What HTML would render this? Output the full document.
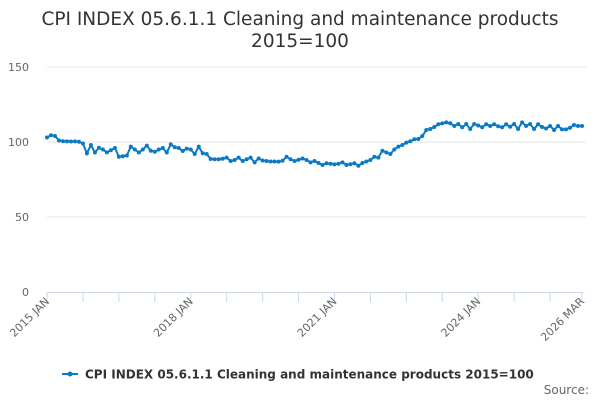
<!DOCTYPE html>
<html><head><meta charset="utf-8"><style>
body{margin:0;background:#fff;}
svg{display:block;font-family:"DejaVu Sans","Liberation Sans",sans-serif;}
</style></head><body>
<svg id="chart" width="600" height="400" viewBox="0 0 600 400">
<text x="300" y="25" text-anchor="middle" font-size="18.5" fill="#333">CPI INDEX 05.6.1.1 Cleaning and maintenance products</text>
<text x="300" y="47" text-anchor="middle" font-size="18.5" fill="#333">2015=100</text>
<g id="grid"></g>
<g id="yaxis"></g>
<g id="xaxis"></g>
<g id="series"></g>
<g>
<line x1="62" y1="374" x2="78" y2="374" stroke="#0a7ac4" stroke-width="2"/>
<circle cx="70" cy="374" r="2.5" fill="#0a7ac4"/>
<text x="85" y="378.5" font-size="12" font-weight="bold" fill="#333">CPI INDEX 05.6.1.1 Cleaning and maintenance products 2015=100</text>
</g>
<text x="589" y="394" text-anchor="end" font-size="12" fill="#666">Source:</text>
</svg>
<script>
const values=[103,104.5,104,101,100.5,100.4,100.3,100.4,100.2,99,92.4,98,93,96.2,95,93.1,94.5,96,90.2,90.5,91,96.9,95,93,95,97.6,94.2,93.5,95,96,93,98.4,96.5,96,94,95.6,95,92,96.9,92.5,92,88.7,88.5,88.5,88.8,89.6,87.3,88,89.6,87.3,88.5,89.6,86.4,89,87.7,87.3,87,87,86.9,87.5,90.2,88.5,87.3,88.2,89,88,86.4,87.3,86,84.7,85.8,85.5,85.1,85.5,86.4,84.7,85.2,85.8,84.2,86,87,88,90.2,89.6,94.2,93,92,95,96.9,98,99.6,100.5,101.8,102,104,108,108.7,110,111.8,112.4,113.1,112.5,110.7,112,109.8,112,108.7,112,111,109.8,111.8,110.7,111.8,110.5,109.8,111.8,110.2,112,108.7,113.1,110.7,112,108.7,111.8,110,109,110.7,108,110.7,108.4,108.4,109.5,111.3,110.7,110.7];
const yTicks=[0,50,100,150];
const xLabelIdx=[0,36,72,108,134];
const xLabels=["2015 JAN","2018 JAN","2021 JAN","2024 JAN","2026 MAR"];
const NS="http://www.w3.org/2000/svg";
const X0=47,X1=582,Y0=292,YS=1.5;
function xs(i){return X0+i*(X1-X0)/(values.length-1);}
function ys(v){return Y0-v*YS;}
function mk(t,a,p){const e=document.createElementNS(NS,t);for(const k in a)e.setAttribute(k,a[k]);p.appendChild(e);return e;}
const grid=document.getElementById('grid'),ya=document.getElementById('yaxis'),xa=document.getElementById('xaxis'),se=document.getElementById('series');
yTicks.forEach(v=>{
 if(v>0){const l=mk('line',{x1:X0,x2:X1+4,y1:ys(v),y2:ys(v),stroke:'#e6e6e6','stroke-width':1},grid);
 
 }
 const t=mk('text',{x:29,y:ys(v)+4,'text-anchor':'end','font-size':11,fill:'#666'},ya);t.textContent=v;
 
 
});
const ax=mk('line',{x1:X0,x2:X1+1,y1:Y0+0.5,y2:Y0+0.5,stroke:'#ccd6eb','stroke-width':1},xa);


const tickIdx=[];for(let i=0;i<values.length;i+=9)tickIdx.push(i);tickIdx.push(values.length-1);
tickIdx.forEach(i=>{const t=mk('line',{x1:xs(i),x2:xs(i),y1:Y0,y2:Y0+10,stroke:'#ccd6eb','stroke-width':1},xa);
 
 });
xLabelIdx.forEach((i,k)=>{const x=xs(i)+3,y=Y0+10;
 const t=mk('text',{x:x,y:y,'text-anchor':'end','font-size':11,fill:'#666',transform:`rotate(-45 ${x} ${y})`},xa);t.textContent=xLabels[k];
 
 });
const d=values.map((v,i)=>(i?'L':'M')+xs(i).toFixed(1)+' '+ys(v).toFixed(1)).join(' ');
const p=mk('path',{d:d,fill:'none',stroke:'#0a7ac4','stroke-width':2},se);


values.forEach((v,i)=>{const c=mk('circle',{cx:xs(i),cy:ys(v),r:2,fill:'#0a7ac4'},se);
 
 });
</script>
</body></html>
